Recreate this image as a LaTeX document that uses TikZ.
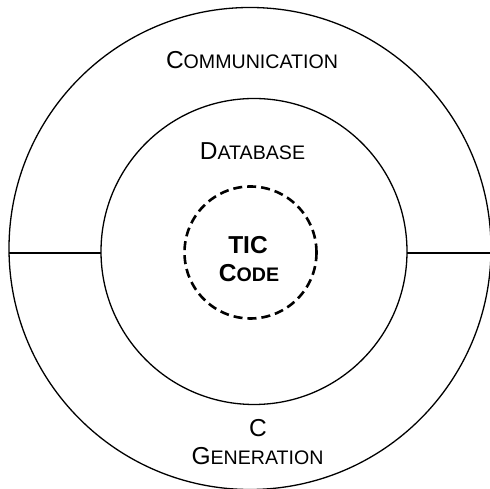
\documentclass[tikz,border=0pt]{standalone}
\usepackage{fontspec}
\setmainfont{Liberation Sans}
\setsansfont{Liberation Sans}
% fake small caps: first letter at full size, the rest smaller
\newcommand{\bigsize}{\fontsize{24.5pt}{28pt}\selectfont}
\newcommand{\smallsize}{\fontsize{19.6pt}{22pt}\selectfont}
\newcommand{\scword}[2]{{\bigsize #1}{\smallsize #2}}
\begin{document}
\begin{tikzpicture}[x=1pt,y=1pt,
  ring/.style={draw=black, line width=1.3pt, circle, inner sep=0pt},
  corering/.style={draw=black, line width=2.6pt, circle, inner sep=0pt, dash pattern=on 9pt off 5pt},
  divider/.style={draw=black, line width=1.5pt},
  lbl/.style={anchor=base, inner sep=0pt, text=black, font=\bigsize}]
  \useasboundingbox (0,0) rectangle (490,489);
  \clip (0,0) rectangle (490,489);
  \fill[white] (0,0) rectangle (490,489);

  % three nested rings
  \node[ring, minimum size=482pt] (outer) at (250,240.5) {};
  \node[ring, minimum size=306pt] (middle) at (254,237.5) {};
  \node[corering, minimum size=132pt] (core) at (250.5,236.5) {};

  % dividers between outer and middle ring
  \coordinate (leftout) at (9,236);
  \coordinate (leftin) at (101,236);
  \coordinate (rightin) at (407,236);
  \coordinate (rightout) at (491,236);
  \draw[divider] (leftout) -- (leftin);
  \draw[divider] (rightin) -- (rightout);

  % labels
  \node[lbl] (comm) at (252,420.5) {\scword{C}{OMMUNICATION}};
  \node[lbl] (db) at (252.5,329) {\scword{D}{ATABASE}};
  \node[lbl, font=\bigsize\bfseries] (tic) at (248,235) {TIC};
  \node[lbl, font=\bigsize\bfseries] (code) at (249,207.3) {{\bfseries\scword{C}{\bfseries ODE}}};
  \node[lbl] (cgen) at (258,52) {C};
  \node[lbl] (gen) at (257.5,24) {\scword{G}{ENERATION}};
\end{tikzpicture}
\end{document}
